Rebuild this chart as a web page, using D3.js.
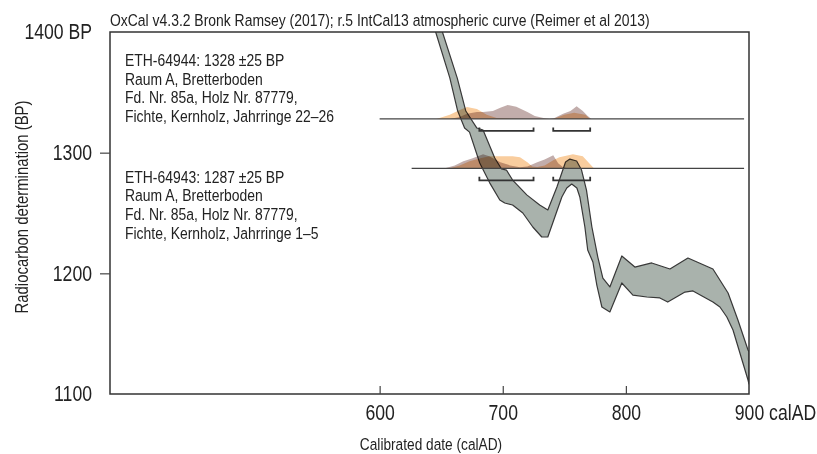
<!DOCTYPE html>
<html>
<head>
<meta charset="utf-8">
<script src="https://cdn.jsdelivr.net/npm/d3@7"></script>
<style>
  body { margin: 0; background: #fff; }
  svg { display: block; font-family: 'Liberation Sans', Arial, sans-serif; }
  text { fill: #222; }
</style>
</head>
<body>
<svg width="817" height="454"></svg>
<script>
// ---- data ----
const xTicks = [600, 700, 800, 900];
const yTicks = [1100, 1200, 1300, 1400];

// IntCal13 band, edges as [calAD, BP]
const curveUpper = [
  [648, 1410], [651, 1400], [663, 1362], [670, 1334.5], [679, 1320.4], [684, 1318.8],
  [693.5, 1295.6], [699, 1286.5], [703, 1285.6], [708, 1277.3], [719.5, 1265],
  [730, 1256.6], [736.6, 1252.5], [744, 1271.5], [751, 1292.3], [754.5, 1294.7],
  [760, 1293.1], [764, 1285.6], [768, 1269], [772.4, 1238.4], [777.2, 1213.5],
  [781.3, 1196.1], [787, 1188.7], [796.7, 1214.4], [807.3, 1205.2], [821, 1208.6],
  [835.8, 1203.6], [850.4, 1212.7], [870.7, 1203.6], [883, 1183.7], [891, 1161.3],
  [899.2, 1136.5], [900, 1134.8]
];
const curveLower = [
  [642.3, 1410], [645.5, 1400], [657, 1362], [663.4, 1334.5], [669, 1320.4], [673, 1317],
  [681.3, 1291.4], [689.4, 1275], [697.6, 1260.8], [701.6, 1258.3], [708, 1256.6],
  [716.3, 1250], [724.4, 1238.4], [731.7, 1230.1], [736.6, 1230.1], [742.3, 1246.7],
  [748, 1263.3], [752, 1270.7], [756, 1274], [760.2, 1270.7], [762.6, 1263.3],
  [766.7, 1238.4], [769, 1219.3], [773.2, 1209.4], [776.4, 1190.3], [780.5, 1172.1],
  [787, 1168], [796.7, 1192], [805.7, 1182], [817, 1180.4], [827.6, 1179.6],
  [834, 1176.2], [848, 1184.5], [854.5, 1185.4], [870.7, 1176.2], [876.4, 1172.1],
  [882, 1163.8], [887, 1153], [899.2, 1111.6], [900, 1108.3]
];

// samples
const sampleBP = [1328, 1287];
const sampleLineFrom = [600, 626];
const sampleLineTo = [896, 896];
const s1Text = ["ETH-64944: 1328 ±25 BP", "Raum A, Bretterboden", "Fd. Nr. 85a, Holz Nr. 87779,", "Fichte, Kernholz, Jahrringe 22–26"];
const s2Text = ["ETH-64943: 1287 ±25 BP", "Raum A, Bretterboden", "Fd. Nr. 85a, Holz Nr. 87779,", "Fichte, Kernholz, Jahrringe 1–5"];

// probability distributions [calAD, relative density]
const s1Like = [[646, 0], [657, 0.29], [665, 0.64], [671, 0.84], [679, 0.71], [687, 0.29], [695, 0.07], [702, 0.04], [714, 0.01], [738, 0],
  [741, 0], [750, 0.29], [758, 0.43], [767, 0.29], [771, 0]];
const s1Post = [[657, 0], [665, 0.14], [671, 0.36], [679, 0.5], [684, 0.5], [692, 0.57], [698, 0.79], [704, 1.0], [711, 0.86], [720, 0.5],
  [726, 0.21], [734, 0.05], [738, 0], [742, 0.07], [749, 0.36], [755, 0.57], [760, 0.9], [765, 0.57], [769, 0.21], [772, 0]];
const s2Like = [[657, 0], [665, 0.21], [673, 0.5], [681, 0.71], [689, 0.86], [700, 0.86], [708, 0.86], [714, 0.79], [720, 0.43],
  [724, 0.14], [728, 0.1], [734, 0.21], [741, 0.57], [746, 0.79], [757, 1.0], [765, 0.86], [771, 0.29], [774, 0]];
const s2Post = [[653, 0], [661, 0.21], [668, 0.5], [675, 0.71], [684, 1.0], [689, 0.86], [698, 0.43], [706, 0.21], [714, 0.07],
  [720, 0.14], [728, 0.43], [734, 0.64], [741, 0.93], [745, 0.36], [749, 0.07], [753, 0]];

// 95.4% ranges
const s1Ranges = [[681, 725], [741, 771]];
const s2Ranges = [[681, 725], [741, 771]];

// ---- chart ----
const svg = d3.select("svg");
const m = {left: 110, right: 749, top: 32, bottom: 394};
const NARROW = 0.82; // Liberation Sans squeezed to look like the condensed original

svg.append("rect").attr("width", 817).attr("height", 454).attr("fill", "#fff");

const x = d3.scaleLinear().domain([381, 900]).range([m.left, m.right]);
const y = d3.scaleLinear().domain([1100, 1400]).range([m.bottom, m.top]);
const h = d3.scaleLinear().domain([0, 1]).range([0, 14]);

svg.append("clipPath").attr("id", "plot")
  .append("rect").attr("x", m.left).attr("y", m.top)
  .attr("width", m.right - m.left).attr("height", m.bottom - m.top);

// calibration curve band
const band = curveUpper.concat(curveLower.slice().reverse());
svg.append("path")
  .attr("clip-path", "url(#plot)")
  .attr("d", d3.line().x(d => x(d[0])).y(d => y(d[1]))(band) + "Z")
  .attr("fill", "#a9b2ac")
  .attr("stroke", "#383838")
  .attr("stroke-width", 1.2)
  .attr("stroke-linejoin", "round");

// sample distributions
const dists = [
  {bp: sampleBP[0], like: s1Like, post: s1Post, ranges: s1Ranges, from: sampleLineFrom[0], to: sampleLineTo[0]},
  {bp: sampleBP[1], like: s2Like, post: s2Post, ranges: s2Ranges, from: sampleLineFrom[1], to: sampleLineTo[1]}
];

dists.forEach(s => {
  const base = y(s.bp);
  const area = d3.area().x(d => x(d[0])).y0(base).y1(d => base - h(d[1]));
  svg.append("path").attr("d", area(s.like))
    .attr("fill", "#f9cd9e").style("mix-blend-mode", "multiply");
  svg.append("path").attr("d", area(s.post))
    .attr("fill", "#c2adab").style("mix-blend-mode", "multiply");

  svg.append("line")
    .attr("x1", x(s.from)).attr("x2", x(s.to))
    .attr("y1", base).attr("y2", base)
    .attr("stroke", "#444").attr("stroke-width", 1.3);

  const by = base + 12;
  s.ranges.forEach(r => {
    svg.append("path")
      .attr("d", `M${x(r[0])},${by - 3.5}V${by}H${x(r[1])}V${by - 3.5}`)
      .attr("fill", "none").attr("stroke", "#333").attr("stroke-width", 1.8);
  });
});

// frame
svg.append("path")
  .attr("d", `M${m.left},${m.top}H${m.right}V${m.bottom}H${m.left}Z`)
  .attr("fill", "none").attr("stroke", "#333").attr("stroke-width", 1.5);

// axes
const xAxis = svg.append("g").attr("transform", `translate(0,${m.bottom})`)
  .call(d3.axisBottom(x).tickValues(xTicks).tickSize(-8).tickSizeOuter(0)
    .tickFormat(d => d === 900 ? "900 calAD" : d));
xAxis.attr("font-family", null).attr("font-size", 21.5);
xAxis.select(".domain").remove();
xAxis.selectAll(".tick line").attr("stroke", "#444").attr("stroke-width", 1.2)
  .filter(d => d === 900).remove();
xAxis.selectAll(".tick text")
  .attr("y", 26).attr("dy", 0).attr("fill", "#222")
  .attr("transform", `scale(${NARROW},1)`)
  .filter(d => d === 900).attr("text-anchor", "start").attr("x", -14.7 / NARROW);

const yAxis = svg.append("g").attr("transform", `translate(${m.left},0)`)
  .call(d3.axisLeft(y).tickValues(yTicks).tickSize(10).tickPadding(8).tickSizeOuter(0)
    .tickFormat(d => d === 1400 ? "1400 BP" : d));
yAxis.attr("font-family", null).attr("font-size", 21.5);
yAxis.select(".domain").remove();
yAxis.selectAll(".tick line").attr("stroke", "#444").attr("stroke-width", 1.2)
  .filter(d => d === 1100 || d === 1400).remove();
yAxis.selectAll(".tick text")
  .attr("x", -18 / NARROW).attr("fill", "#222")
  .attr("transform", `scale(${NARROW},1)`);

// text helper: condensed text at (tx, ty)
function label(str, tx, ty, size, anchor, rot) {
  return svg.append("text")
    .attr("transform", `translate(${tx},${ty})${rot ? ` rotate(${rot})` : ""} scale(${NARROW},1)`)
    .attr("text-anchor", anchor || "start")
    .attr("font-size", size)
    .text(str);
}

label("OxCal v4.3.2 Bronk Ramsey (2017); r.5 IntCal13 atmospheric curve (Reimer et al 2013)", m.left, 25.5, 17);
label("Calibrated date (calAD)", 431, 450, 16.7, "middle");
label("Radiocarbon determination (BP)", 28, 207, 18.2, "middle", -90);

// sample captions
[[s1Text, 66], [s2Text, 182.7]].forEach(([lines, y0]) => {
  lines.forEach((d, i) => label(d, 125, y0 + i * 18.6, 17));
});
</script>
</body>
</html>
